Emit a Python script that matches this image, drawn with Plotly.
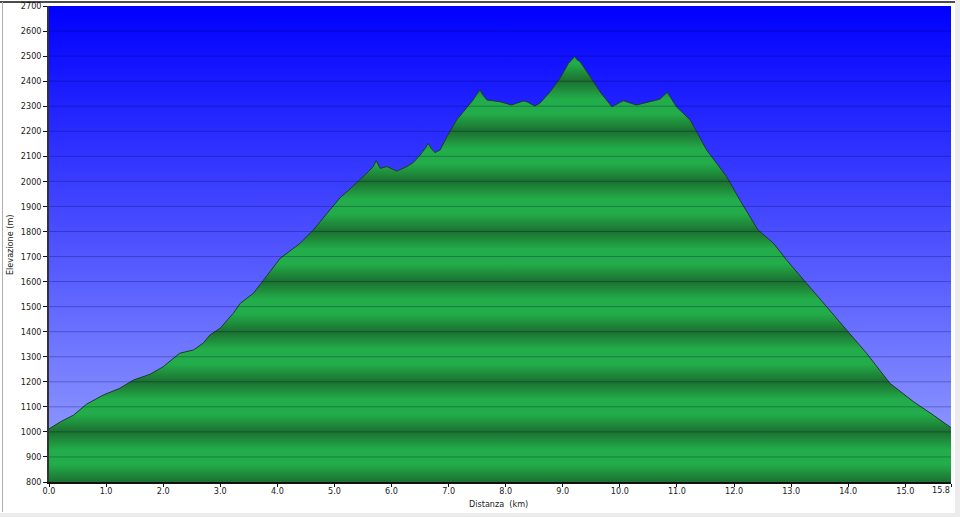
import plotly.graph_objects as go

# ---------------- data ----------------
DIST_KM = [0.0, 0.2, 0.43, 0.66, 0.95, 1.24, 1.48, 1.77, 2.0, 2.29, 2.53, 2.7, 2.82,
           3.0, 3.23, 3.35, 3.58, 3.81, 4.05, 4.4, 4.63, 4.92, 5.1, 5.25, 5.45, 5.6,
           5.68, 5.73, 5.8, 5.92, 6.09, 6.27, 6.38, 6.5, 6.6, 6.64, 6.7, 6.76, 6.85,
           6.97, 7.14, 7.32, 7.43, 7.5, 7.55, 7.6, 7.67, 7.9, 8.1, 8.31, 8.37, 8.51,
           8.6, 8.78, 8.95, 9.1, 9.17, 9.21, 9.25, 9.3, 9.48, 9.65, 9.86, 10.06,
           10.29, 10.59, 10.7, 10.83, 10.99, 11.23, 11.52, 11.87, 12.1, 12.42, 12.69,
           12.92, 13.27, 13.62, 13.97, 14.32, 14.73, 15.14, 15.49, 15.8]
ELEV_M = [1012, 1040, 1067, 1111, 1147, 1174, 1207, 1230, 1260, 1314, 1327, 1354, 1387,
          1414, 1474, 1513, 1553, 1620, 1693, 1753, 1806, 1886, 1935, 1965, 2006, 2040,
          2059, 2083, 2052, 2059, 2041, 2059, 2075, 2105, 2135, 2152, 2130, 2115, 2125,
          2178, 2245, 2292, 2325, 2350, 2365, 2345, 2325, 2318, 2305, 2321, 2318, 2301,
          2312, 2358, 2411, 2471, 2490, 2498, 2485, 2478, 2418, 2358, 2298, 2322,
          2305, 2322, 2328, 2356, 2298, 2245, 2125, 2019, 1926, 1806, 1753,
          1686, 1593, 1500, 1407, 1314, 1194, 1121, 1067, 1017]

X_TICKS = [0, 1, 2, 3, 4, 5, 6, 7, 8, 9, 10, 11, 12, 13, 14, 15, 15.8]
X_TICK_TEXT = ["0.0", "1.0", "2.0", "3.0", "4.0", "5.0", "6.0", "7.0", "8.0", "9.0",
               "10.0", "11.0", "12.0", "13.0", "14.0", "15.0", "15.8"]
Y_TICKS = list(range(800, 2701, 100))
X_RANGE = [0, 15.8]
Y_RANGE = [800, 2700]

# ---------------- geometry helpers ----------------
W, H = 960, 517
L, R, T, B = 49, 9, 6, 35
PW, PH = W - L - R, H - T - B


def px(xp):
    return (xp - L) / PW


def py(yp):
    return (H - B - yp) / PH


# ---------------- colours ----------------
span = Y_RANGE[1] - Y_RANGE[0]
dark = "rgb(27,112,48)"
mid = "rgb(31,142,60)"
bright = "rgb(35,172,74)"
green_scale = []
for lvl in range(Y_RANGE[0], Y_RANGE[1], 200):
    for off, col in [(0, dark), (35, mid), (70, bright), (100, bright), (130, bright), (165, mid)]:
        v = lvl + off
        if v <= Y_RANGE[1]:
            green_scale.append([(v - Y_RANGE[0]) / span, col])
green_scale.append([1.0, dark])

blue_scale = [[0, "rgb(155,165,255)"], [1, "rgb(0,0,255)"]]

fig = go.Figure()

# sky background
fig.add_trace(go.Scatter(
    x=[X_RANGE[0], X_RANGE[1], X_RANGE[1], X_RANGE[0], X_RANGE[0]],
    y=[Y_RANGE[0], Y_RANGE[0], Y_RANGE[1], Y_RANGE[1], Y_RANGE[0]],
    fill="toself", mode="none",
    fillgradient=dict(type="vertical", start=Y_RANGE[0], stop=Y_RANGE[1], colorscale=blue_scale),
    hoverinfo="skip", showlegend=False,
))

# elevation profile
fig.add_trace(go.Scatter(
    x=DIST_KM, y=ELEV_M, mode="lines", fill="tozeroy",
    line=dict(color="rgb(30,60,40)", width=1),
    fillgradient=dict(type="vertical", start=Y_RANGE[0], stop=Y_RANGE[1], colorscale=green_scale),
    showlegend=False,
))

shapes = []
for v in Y_TICKS[1:-1]:
    shapes.append(dict(type="line", xref="paper", yref="y", x0=0, x1=1, y0=v, y1=v,
                       line=dict(color="rgba(0,0,60,0.28)", width=1), layer="above"))

# outer frame
shapes.append(dict(type="rect", xref="paper", yref="paper", x0=px(0), x1=px(W), y0=py(H), y1=py(513),
                   fillcolor="#ececec", line=dict(width=0), layer="below"))
shapes.append(dict(type="rect", xref="paper", yref="paper", x0=px(955), x1=px(W), y0=py(H), y1=py(0),
                   fillcolor="#ececec", line=dict(width=0), layer="below"))
shapes.append(dict(type="line", xref="paper", yref="paper", x0=px(0), x1=px(955), y0=py(2), y1=py(2),
                   line=dict(color="#111", width=1.5)))
shapes.append(dict(type="line", xref="paper", yref="paper", x0=px(2.5), x1=px(2.5), y0=py(2), y1=py(512),
                   line=dict(color="#b0b0b0", width=1)))

font = dict(family="DejaVu Sans Condensed, DejaVu Sans, sans-serif", size=9, color="#222")

# the last tick label sits right-aligned on its tick (drawn as annotation so it stays inside)
tick_text_axis = X_TICK_TEXT[:-1] + [""]

fig.update_layout(
    width=W, height=H,
    margin=dict(l=L, r=R, t=T, b=B, autoexpand=False),
    paper_bgcolor="white", plot_bgcolor="white",
    font=font,
    shapes=shapes,
    xaxis=dict(range=X_RANGE, tickvals=X_TICKS, ticktext=tick_text_axis, showgrid=False,
               zeroline=False, showline=True, linecolor="#111", linewidth=1.5,
               ticks="outside", ticklen=3, tickcolor="#111", tickfont=font, fixedrange=True,
               ticklabelstandoff=-4, ticklabeloverflow="allow"),
    yaxis=dict(range=Y_RANGE, tickvals=Y_TICKS, showgrid=False, zeroline=False,
               showline=True, linecolor="#333", linewidth=1.5,
               ticks="outside", ticklen=4, tickcolor="#111", tickfont=font, fixedrange=True),
    annotations=[
        dict(text="Elevazione (m)", xref="paper", yref="paper", x=px(10), y=py(245),
             xanchor="center", yanchor="middle",
             textangle=-90, showarrow=False, font=font),
        dict(text="Distanza\u00a0\u00a0(km)", xref="paper", yref="paper", x=px(498), y=py(504),
             xanchor="center", yanchor="middle",
             showarrow=False, font=font),
        dict(text=X_TICK_TEXT[-1], xref="x", yref="paper", x=X_TICKS[-1], y=py(490),
             xanchor="right", yanchor="middle", xshift=1,
             showarrow=False, font=font),
    ],
)

fig.write_html(
    "out.html",
    config={"displayModeBar": False},
    post_script="document.body.style.margin='0';document.body.style.overflow='hidden';",
)
